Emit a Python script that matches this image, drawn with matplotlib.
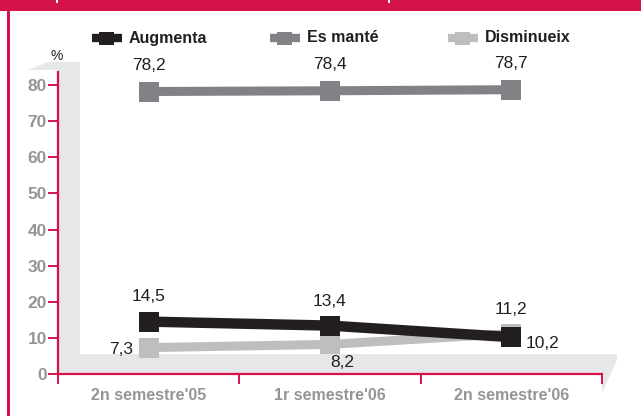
import matplotlib.pyplot as plt
from matplotlib.patches import Polygon, Rectangle
from matplotlib.lines import Line2D

# data
periods = ["2n semestre'05", "1r semestre'06", "2n semestre'06"]
augmenta = [14.5, 13.4, 10.2]
es_mante = [78.2, 78.4, 78.7]
disminueix = [7.3, 8.2, 11.2]
series_names = ["Augmenta", "Es manté", "Disminueix"]

RED = '#d4124a'
BLACK = '#231f20'
MID = '#808285'
LIGHT = '#bcbec0'
WALL = '#e6e7e8'
TICKGRAY = '#939598'

W, H = 641, 416
fig = plt.figure(figsize=(W / 100, H / 100), dpi=100)

NARROW = ['Liberation Sans Narrow', 'Liberation Sans', 'DejaVu Sans']
SANS = ['Liberation Sans', 'DejaVu Sans']

# background layer in pixel coords
bg = fig.add_axes([0, 0, 1, 1])
bg.set_xlim(0, W)
bg.set_ylim(H, 0)
bg.axis('off')
bg.add_patch(Rectangle((0, 0), W, 11, color=RED, lw=0))
bg.add_patch(Rectangle((7, 0), 3, H, color=RED, lw=0))
bg.add_patch(Rectangle((56, 0), 2, 3, color='white', lw=0))
bg.add_patch(Rectangle((388, 0), 2, 3, color='white', lw=0))
# 3d wall and floor
bg.add_patch(Polygon([(58, 374), (58, 70), (28, 70), (48, 62), (80, 62), (80, 354)],
                     closed=True, color=WALL, lw=0))
bg.add_patch(Polygon([(58, 374), (80, 354), (617, 354), (617, 360), (602, 393), (602, 374)],
                     closed=True, color=WALL, lw=0))
bg.text(57, 56, '%', ha='center', va='center', fontsize=10, color=BLACK, family=SANS)

# main axes
x0, x1 = 58, 602
y0, ytop = 374, 72
ppu = (374 - 85) / 80.0
ax = fig.add_axes([x0 / W, (H - y0) / H, (x1 - x0) / W, (y0 - ytop) / H])
ax.patch.set_alpha(0)
ax.set_xlim(0, 3)
ax.set_ylim(0, (y0 - ytop) / ppu)
for s in ['top', 'right']:
    ax.spines[s].set_visible(False)
for s in ['left', 'bottom']:
    ax.spines[s].set_color(RED)
    ax.spines[s].set_linewidth(1.6)

ax.set_yticks(range(0, 81, 10))
ax.tick_params(axis='y', length=7, width=1.4, color=RED, labelcolor=TICKGRAY,
               labelsize=12.5, pad=1)
for lb in ax.get_yticklabels():
    lb.set_fontweight('bold')
    lb.set_family(NARROW)

ax.set_xticks([0, 1, 2, 3])
ax.set_xticklabels([])
ax.tick_params(axis='x', which='major', length=7, width=1.4, color=RED)
xs = [0.5, 1.5, 2.5]
ax.set_xticks(xs, minor=True)
ax.set_xticklabels(periods, minor=True)
ax.tick_params(axis='x', which='minor', length=0, pad=10, labelcolor=TICKGRAY, labelsize=11.5)
for lb in ax.get_xticklabels(minor=True):
    lb.set_fontweight('bold')
    lb.set_family(NARROW)

ms = 14.5
ax.plot(xs, es_mante, color=MID, lw=6.5, marker='s', ms=ms, mew=0, clip_on=False, zorder=3)
ax.plot(xs, disminueix, color=LIGHT, lw=6.5, marker='s', ms=ms, mew=0, clip_on=False, zorder=3)
ax.plot(xs, augmenta, color=BLACK, lw=7.5, marker='s', ms=ms, mew=0, clip_on=False, zorder=4)


def lab(x, y, v, dx, dy):
    ax.annotate(('%.1f' % v).replace('.', ','), (x, y), xytext=(dx * 0.72, -dy * 0.72),
                textcoords='offset points', ha='center', va='center', fontsize=12.5,
                color=BLACK, family=NARROW, zorder=5)


for i in range(3):
    lab(xs[i], es_mante[i], es_mante[i], 0, -26)
lab(xs[0], augmenta[0], augmenta[0], 0, -25)
lab(xs[1], augmenta[1], augmenta[1], 0, -24)
lab(xs[2], augmenta[2], augmenta[2], 31, 6)
lab(xs[0], disminueix[0], disminueix[0], -28, 2)
lab(xs[1], disminueix[1], disminueix[1], 12, 18)
lab(xs[2], disminueix[2], disminueix[2], 0, -24)

# legend, drawn by hand to match the spacing
leg_x = [92, 270, 448]
leg_c = [BLACK, MID, LIGHT]
for lx, c, name in zip(leg_x, leg_c, series_names):
    bg.add_line(Line2D([lx, lx + 30], [38, 38], color=c, lw=6, solid_capstyle='butt'))
    bg.add_patch(Rectangle((lx + 7, 31.5), 15, 13, color=c, lw=0))
    bg.text(lx + 37, 38, name, ha='left', va='center', fontsize=11.5, fontweight='bold',
            color=BLACK, family=SANS)

fig.savefig('out.png', dpi=100)
